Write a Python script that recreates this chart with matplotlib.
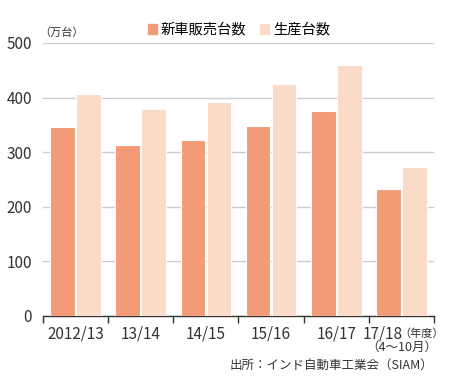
import numpy as np
import matplotlib
matplotlib.use('Agg')
import matplotlib.pyplot as plt
import matplotlib.patches as mpatches

plt.rcParams['font.family'] = ['Noto Sans CJK JP', 'DejaVu Sans']

# データ（単位：万台）
years = ['2012/13', '13/14', '14/15', '15/16', '16/17', '17/18']
sales = [346, 313, 322, 347, 376, 233]        # 新車販売台数
production = [406, 379, 392, 425, 460, 272]   # 生産台数
yticks = [0, 100, 200, 300, 400, 500]

c_sales = '#F29B76'
c_prod = '#FBDAC8'

fig = plt.figure(figsize=(4.5, 3.83), dpi=100)
ax = fig.add_axes([0.0956, 0.175, 0.8688, 0.713])

x = np.arange(len(years))
ax.bar(x - 0.2, sales, width=0.38, color=c_sales, edgecolor='white',
       linewidth=0.8, zorder=3)
ax.bar(x + 0.2, production, width=0.38, color=c_prod, edgecolor='white',
       linewidth=0.8, zorder=3)

ax.set_xlim(-0.5, len(years) - 0.5)
ax.set_ylim(0, 500)
ax.set_yticks(yticks)
ax.set_yticklabels([str(v) for v in yticks], fontsize=11, color='#333333')
ax.tick_params(axis='y', length=0, pad=8)
ax.grid(axis='y', color='#cccccc', linewidth=1.0, zorder=1)

# x軸：区切り目盛り
ax.set_xticks(np.arange(-0.5, len(years)))
ax.set_xticklabels([])
ax.tick_params(axis='x', length=5, width=1.0, color='#333333', direction='out')
for i, lab in enumerate(years[:-1]):
    ax.text(i, -0.035, lab, transform=ax.get_xaxis_transform(),
            ha='center', va='top', fontsize=11, color='#333333')
ax.text(5.02, -0.035, years[-1], transform=ax.get_xaxis_transform(),
        ha='right', va='top', fontsize=11, color='#333333')
ax.text(4.97, -0.045, '（年度）', transform=ax.get_xaxis_transform(),
        ha='left', va='top', fontsize=8, color='#333333')
ax.text(5.0, -0.092, '（4～10月）', transform=ax.get_xaxis_transform(),
        ha='center', va='top', fontsize=9, color='#333333')

for s in ['top', 'right', 'left']:
    ax.spines[s].set_visible(False)
ax.spines['bottom'].set_color('#333333')
ax.spines['bottom'].set_linewidth(1.0)

fig.text(0.088, 0.915, '（万台）', fontsize=8, color='#333333',
         ha='left', va='center')

handles = [mpatches.Patch(color=c_sales, label='新車販売台数'),
           mpatches.Patch(color=c_prod, label='生産台数')]
fig.legend(handles=handles, loc='center', bbox_to_anchor=(0.531, 0.922),
           ncol=2, frameon=False, fontsize=10.3, handlelength=0.65,
           handleheight=0.65, handletextpad=0.25, columnspacing=0.95,
           borderpad=0, borderaxespad=0)

fig.text(0.964, 0.045, '出所：インド自動車工業会（SIAM）', fontsize=9,
         color='#333333', ha='right', va='center')

fig.savefig('out.png', dpi=100)
